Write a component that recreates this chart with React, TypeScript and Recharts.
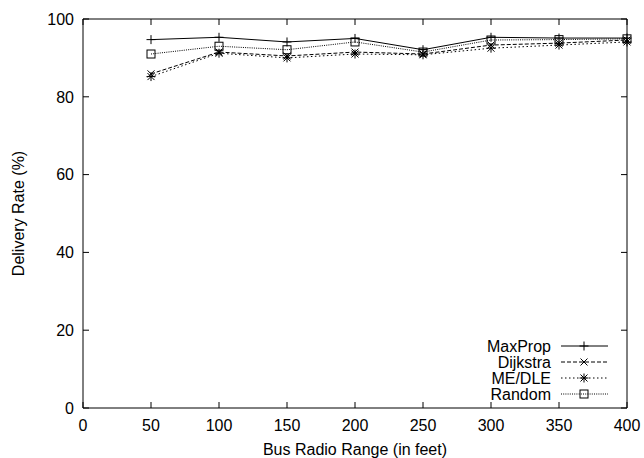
import React from 'react';
import { LineChart, Line, XAxis, YAxis } from 'recharts';

// bus radio range (feet)
const ranges = [50, 100, 150, 200, 250, 300, 350, 400];

// delivery rate (%) per protocol
const maxProp = [94.7, 95.3, 94.1, 95.0, 92.1, 95.3, 95.1, 95.1];
const dijkstra = [85.9, 91.5, 90.5, 91.5, 91.0, 93.3, 93.8, 94.6];
const meDle = [85.2, 91.2, 90.0, 91.0, 90.8, 92.5, 93.3, 94.1];
const random = [91.0, 93.0, 92.1, 94.1, 91.5, 94.6, 94.7, 94.9];

const xTicks = [0, 50, 100, 150, 200, 250, 300, 350, 400];
const yTicks = [0, 20, 40, 60, 80, 100];

const data = ranges.map((r, i) => ({
  range: r,
  maxProp: maxProp[i],
  dijkstra: dijkstra[i],
  meDle: meDle[i],
  random: random[i],
}));

const FONT = '"Liberation Sans", Arial, Helvetica, sans-serif';
const FS = 16;
const INK = '#000';

type Shape = 'plus' | 'cross' | 'star' | 'square';

const series: { key: string; name: string; dash?: string; shape: Shape }[] = [
  { key: 'maxProp', name: 'MaxProp', shape: 'plus' },
  { key: 'dijkstra', name: 'Dijkstra', dash: '4 2', shape: 'cross' },
  { key: 'meDle', name: 'ME/DLE', dash: '1.5 2.5', shape: 'star' },
  { key: 'random', name: 'Random', dash: '1 1.2', shape: 'square' },
];

function Txt({ x, y, anchor, children }: { x: number; y: number; anchor: string; children: any }) {
  return (
    <text x={x} y={y} textAnchor={anchor} fontSize={FS} fontFamily={FONT} fill={INK}>
      {children}
    </text>
  );
}

function Marker({ x, y, shape }: { x: number; y: number; shape: Shape }) {
  const p = 4.5;
  const c = 3.5;
  const plus = `M${x - p},${y}H${x + p}M${x},${y - p}V${y + p}`;
  const cross = `M${x - c},${y - c}L${x + c},${y + c}M${x - c},${y + c}L${x + c},${y - c}`;
  if (shape === 'square') {
    return <rect x={x - 4} y={y - 4} width={8} height={8} fill="none" stroke={INK} strokeWidth={1} />;
  }
  const d = shape === 'plus' ? plus : shape === 'cross' ? cross : plus + cross;
  return <path d={d} stroke={INK} strokeWidth={1} fill="none" />;
}

const makeDot = (shape: Shape) => (props: any) => {
  const { cx, cy, index } = props;
  return (
    <g key={`${shape}-${index}`}>
      <Marker x={cx} y={cy} shape={shape} />
    </g>
  );
};

const BottomTick = (props: any) => {
  const { x, y, payload } = props;
  return (
    <g>
      <line x1={x} y1={y} x2={x} y2={y - 6} stroke={INK} />
      <Txt x={x} y={y + 23} anchor="middle">
        {payload.value}
      </Txt>
    </g>
  );
};

const TopTick = (props: any) => {
  const { x, y } = props;
  return <line x1={x} y1={y} x2={x} y2={y + 6} stroke={INK} />;
};

const LeftTick = (props: any) => {
  const { x, y, payload } = props;
  return (
    <g>
      <line x1={x} y1={y} x2={x + 6} y2={y} stroke={INK} />
      <Txt x={x - 9} y={y + 5.7} anchor="end">
        {payload.value}
      </Txt>
    </g>
  );
};

const RightTick = (props: any) => {
  const { x, y } = props;
  return <line x1={x} y1={y} x2={x - 6} y2={y} stroke={INK} />;
};

const LegendBox = () => (
  <svg width={220} height={80} style={{ position: 'absolute', left: 400, top: 330 }}>
    {series.map((s, i) => {
      const y = 16 + i * 16;
      return (
        <g key={s.key}>
          <Txt x={151} y={y + 5.7} anchor="end">
            {s.name}
          </Txt>
          <line x1={161} y1={y} x2={208} y2={y} stroke={INK} strokeDasharray={s.dash} />
          <Marker x={184} y={y} shape={s.shape} />
        </g>
      );
    })}
  </svg>
);

export default function App() {
  return (
    <div style={{ position: 'absolute', left: 0, top: 0, width: 644, height: 458, background: '#fff' }}>
      <LineChart width={644} height={458} data={data} margin={{ top: 18, right: 16, bottom: 0, left: 0 }}>
        <XAxis
          dataKey="range"
          type="number"
          domain={[0, 400]}
          ticks={xTicks}
          height={50}
          tickSize={0}
          tickMargin={0}
          tickLine={false}
          tick={<BottomTick />}
          axisLine={{ stroke: INK }}
          label={{
            content: (p: any) => (
              <Txt x={p.viewBox.x + p.viewBox.width / 2} y={p.viewBox.y + 47} anchor="middle">
                Bus Radio Range (in feet)
              </Txt>
            ),
          }}
        />
        <XAxis
          xAxisId="top"
          orientation="top"
          dataKey="range"
          type="number"
          domain={[0, 400]}
          ticks={xTicks}
          height={1}
          tickSize={0}
          tickMargin={0}
          tickLine={false}
          tick={<TopTick />}
          axisLine={{ stroke: INK }}
        />
        <YAxis
          type="number"
          domain={[0, 100]}
          ticks={yTicks}
          width={83}
          tickSize={0}
          tickMargin={0}
          tickLine={false}
          tick={<LeftTick />}
          axisLine={{ stroke: INK }}
          label={{
            content: (p: any) => {
              const cx = p.viewBox.x + 24;
              const cy = p.viewBox.y + p.viewBox.height / 2;
              return (
                <text
                  x={cx}
                  y={cy}
                  transform={`rotate(-90 ${cx} ${cy})`}
                  textAnchor="middle"
                  fontSize={FS}
                  fontFamily={FONT}
                  fill={INK}
                >
                  Delivery Rate (%)
                </text>
              );
            },
          }}
        />
        <YAxis
          yAxisId="right"
          orientation="right"
          type="number"
          domain={[0, 100]}
          ticks={yTicks}
          width={1}
          tickSize={0}
          tickMargin={0}
          tickLine={false}
          tick={<RightTick />}
          axisLine={{ stroke: INK }}
        />
        {/* invisible series so the mirrored top/right axes get drawn */}
        <Line
          xAxisId="top"
          yAxisId="right"
          dataKey="maxProp"
          stroke="none"
          dot={false}
          activeDot={false}
          legendType="none"
          isAnimationActive={false}
        />
        {series.map((s) => (
          <Line
            key={s.key}
            dataKey={s.key}
            name={s.name}
            type="linear"
            stroke={INK}
            strokeWidth={1}
            strokeDasharray={s.dash}
            dot={makeDot(s.shape)}
            activeDot={false}
            isAnimationActive={false}
          />
        ))}
      </LineChart>
      <LegendBox />
    </div>
  );
}
